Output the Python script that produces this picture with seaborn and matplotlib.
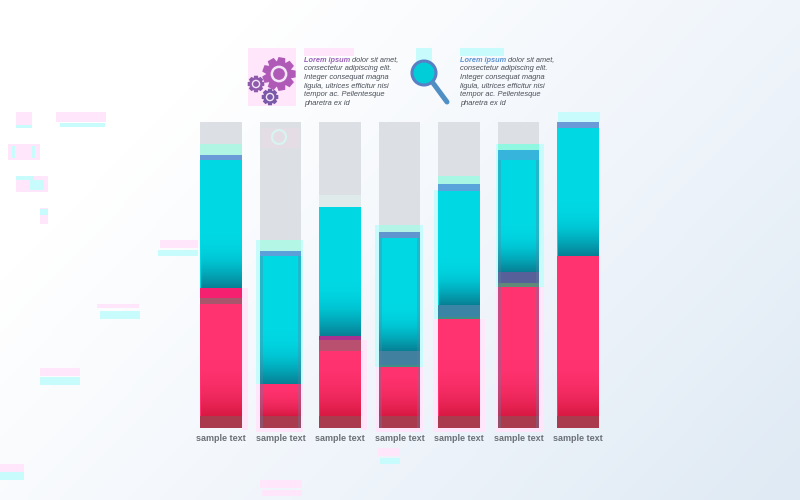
import numpy as np
import pandas as pd
import matplotlib
matplotlib.use("Agg")
import matplotlib.pyplot as plt
from matplotlib.colors import LinearSegmentedColormap
from matplotlib.patches import Circle, Polygon, Rectangle
import seaborn as sns

# === I. (percent of bar height) ===
labels = [f"sample text{' ' * i}" for i in range(7)]
mint_top = [92.8, 61.4, 76.1, 66.3, 82.4, 92.8, 100]
blue_top = [89.2, 57.8, 72.2, 64.0, 79.7, 90.8, 100]
teal_top = [87.6, 56.2, 72.2, 62.1, 77.5, 87.6, 98.0]
band_top = [45.8, 14.4, 30.0, 25.2, 40.2, 51.0, 56.2]
band2_top = [42.5, 14.4, 28.8, 20.6, 36.3, 47.4, 56.2]
pink_top = [40.5, 14.4, 25.2, 19.9, 35.6, 46.1, 56.2]
track = [100] * 7

mint_colors = ["#b0f5e4", "#b4f6e6", "#dfeaea", "#b4f4e6", "#a8f6e4", "#90f8e0", "#b4f6e6"]
blue_colors = ["#6a9ad8", "#5ba0d8", "#5fa6dc", "#5f96d0", "#5aa4dc", "#36b4dc", "#6a9ad8"]
band_colors = ["#f5206f", "#ff3370", "#a8308f", "#42809f", "#3a85a5", "#58609a", "#ff3370"]
band2_colors = ["#a8566c", "#ff3370", "#b9506f", "#3f8f84", "#3f8f84", "#5f8a78", "#ff3370"]
side_strip = [0, 1, 0, 1, 0, 1, 0]

# ghost blocks in the background of the reference (x, y, w, h in pixels)
pink_ghosts = [(16, 112, 16, 16), (56, 112, 50, 10), (8, 144, 32, 16), (16, 176, 32, 16),
               (40, 208, 8, 16), (160, 240, 38, 8), (97, 304, 42, 4), (40, 368, 40, 8),
               (0, 464, 24, 8), (260, 480, 42, 8), (262, 490, 40, 6), (378, 448, 22, 8),
               (248, 48, 48, 58), (304, 48, 50, 8), (242, 288, 6, 142), (256, 384, 47, 48),
               (361, 340, 6, 90), (376, 367, 47, 65), (433, 319, 52, 113), (496, 287, 48, 145)]
cyan_ghosts = [(16, 125, 16, 3), (60, 123, 45, 4), (12, 146, 3, 12), (32, 146, 3, 12),
               (16, 176, 18, 4), (30, 180, 14, 10), (40, 209, 8, 6), (158, 250, 40, 6),
               (100, 311, 40, 8), (40, 377, 40, 8), (0, 472, 24, 8), (380, 458, 20, 6),
               (416, 48, 16, 16), (460, 48, 44, 8), (558, 112, 42, 10), (496, 144, 48, 143),
               (256, 240, 47, 144), (375, 225, 48, 142), (434, 190, 4, 129)]


def gear(cx, cy, r, teeth):
    # outline of a toothed wheel, in pixels
    pts = []
    step = 2 * np.pi / teeth
    for i in range(teeth):
        a = i * step
        for da, rad in [(-0.30, r * 0.76), (-0.18, r), (0.18, r), (0.30, r * 0.76)]:
            pts.append((cx + rad * np.cos(a + da * step * 1.6), cy + rad * np.sin(a + da * step * 1.6)))
    return pts


def paragraph(ax, x, color):
    ax.text(x, 60, "Lorem ipsum", color=color, fontsize=5.35, style="italic", weight="bold",
            va="center", family="Liberation Sans")
    ax.text(x + 47.5, 60, "dolor sit amet,", color="#4a4f57", fontsize=5.35, style="italic",
            va="center", family="Liberation Sans")
    lines = ["consectetur adipiscing elit.", "Integer consequat magna", "ligula, ultrices efficitur nisi",
             "tempor ac. Pellentesque", "pharetra ex id"]
    for i, line in enumerate(lines):
        ax.text(x, 69 + i * 8.6, line, color="#4a4f57", fontsize=5.45, style="italic",
                va="center", family="Liberation Sans")


def gradient_over(ax, bar, colors, y0, y1):
    # paint a vertical gradient over one bar, kept just inside its edges
    cmap = LinearSegmentedColormap.from_list("g", colors)
    x0 = bar.get_x() + 0.004
    x1 = bar.get_x() + bar.get_width() - 0.012
    ax.imshow(np.linspace(0, 1, 128).reshape(-1, 1), cmap=cmap, aspect="auto", origin="lower",
              extent=(x0, x1, y0, y1), zorder=5, interpolation="nearest")


# === II. Figure and background ===
sns.set_theme(style="white")
fig = plt.figure(figsize=(8, 5), dpi=100)

bg = fig.add_axes([0, 0, 1, 1], zorder=0)
xx, yy = np.meshgrid(np.linspace(0, 1, 200), np.linspace(0, 1, 125))
shade = np.clip((xx * 0.75 + yy * 0.45 - 0.25) / 0.95, 0, 1)
bg_cmap = LinearSegmentedColormap.from_list("bg", ["#ffffff", "#f0f5fb", "#dfeaf4"])
bg.imshow(shade, cmap=bg_cmap, extent=(0, 800, 500, 0), aspect="auto", vmin=0, vmax=1)
for x, y, w, h in pink_ghosts:
    bg.add_patch(Rectangle((x, y), w, h, color="#ffe6fb", lw=0))
for x, y, w, h in cyan_ghosts:
    bg.add_patch(Rectangle((x, y), w, h, color="#c8fbfb", lw=0))
bg.set_xlim(0, 800)
bg.set_ylim(500, 0)
bg.axis("off")

# === III. Stacked bars, drawn back to front ===
ax = fig.add_axes([191.25 / 800, (500 - 428) / 500, 416.5 / 800, 306 / 500], zorder=1)
ax.patch.set_alpha(0)
df = pd.DataFrame({"label": labels, "track": track, "mint": mint_top, "blue": blue_top, "teal": teal_top,
                   "band": band_top, "band2": band2_top, "pink": pink_top})
bar_kw = dict(width=0.69, saturation=1, linewidth=0, ax=ax)

sns.barplot(df, x="label", y="track", color="#dcdfe3", **bar_kw)
sns.barplot(df, x="label", y="mint", hue="label", palette=mint_colors, legend=False, **bar_kw)
sns.barplot(df, x="label", y="blue", hue="label", palette=blue_colors, legend=False, **bar_kw)
n_before = len(ax.patches)
sns.barplot(df, x="label", y="teal", color="#00d8e4", **bar_kw)
teal_bars = [b for b in ax.patches[n_before:] if b.get_height() > 0]
sns.barplot(df, x="label", y="band", hue="label", palette=band_colors, legend=False, **bar_kw)
sns.barplot(df, x="label", y="band2", hue="label", palette=band2_colors, legend=False, **bar_kw)
n_before = len(ax.patches)
sns.barplot(df, x="label", y="pink", color="#ff3370", **bar_kw)
pink_bars = [b for b in ax.patches[n_before:] if b.get_height() > 0]

# teal fades darker toward its foot, pink reddens and ends in a dark band
for bar, low, top_val in zip(teal_bars, band_top, teal_top):
    span = top_val - low
    gradient_over(ax, bar, [(0.03, 0.50, 0.58, 1), (0.0, 0.74, 0.80, 0.75), (0, 0.85, 0.89, 0)],
                  low, low + span * 0.42)
for bar, top_val in zip(pink_bars, pink_top):
    gradient_over(ax, bar, [(0.85, 0.10, 0.26, 1), (1, 0.2, 0.44, 0)], 4, min(top_val, 22))
    ax.add_patch(Rectangle((bar.get_x(), 0), bar.get_width(), 4, color="#aa3a4e", lw=0, zorder=6))

# darker side strips on the bars that have them
for bar, flag, top_val in zip(pink_bars, side_strip, teal_top):
    if flag:
        for x in (bar.get_x(), bar.get_x() + bar.get_width() - 0.055):
            ax.add_patch(Rectangle((x, 0), 0.055, top_val, color="#5f7f9f", alpha=0.35, lw=0, zorder=7))

ax.set_xlim(-0.5, 6.5)
ax.set_ylim(0, 100)
ax.set_xlabel("")
ax.set_ylabel("")
ax.set_yticks([])
ax.set_xticks(range(7))
ax.set_xticklabels([s.strip() for s in labels], fontsize=6.5, fontweight="bold", color="#6c7178",
                   family="Liberation Sans")
ax.tick_params(axis="x", length=0, pad=4)
sns.despine(ax=ax, left=True, bottom=True)

# === IV. Icons and captions on a pixel overlay ===
top = fig.add_axes([0, 0, 1, 1], zorder=2)
top.patch.set_alpha(0)
top.set_xlim(0, 800)
top.set_ylim(500, 0)
top.axis("off")

for cx, cy, r, n, col in [(279, 74, 17, 9, "#b05ab8"), (256, 84, 8.5, 8, "#8f5aac"), (270, 97, 8.5, 8, "#7a5aa8")]:
    top.add_patch(Polygon(gear(cx, cy, r, n), closed=True, color=col, lw=0))
    top.add_patch(Circle((cx, cy), r * 0.42, fc="none", ec="#f3e6f6", lw=1.8 if r > 10 else 1.0))

# ghost of the gear over the second bar
top.add_patch(Rectangle((262, 128), 38, 20, color="#ffd8f0", alpha=0.25, lw=0))
top.add_patch(Circle((279, 137), 7, fc="none", ec="#d8f4ee", lw=1.6))

top.plot([433, 447], [83, 102], color="#4f8fc4", lw=3.6, solid_capstyle="round")
top.add_patch(Circle((424, 73), 12, fc="#00cdd8", ec="#5b7fc4", lw=2.2))

paragraph(top, 304, "#9a62b8")
paragraph(top, 460, "#5b92d0")

fig.savefig("out.png", dpi=100)
